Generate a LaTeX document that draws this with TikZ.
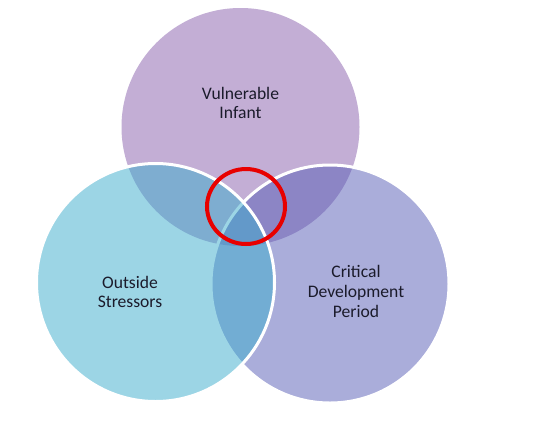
\documentclass[tikz,border=0pt]{standalone}
\usepackage{fontspec}
\setmainfont{Carlito}
\definecolor{topc}{RGB}{195,174,213}
\definecolor{rightc}{RGB}{87,93,183}
\definecolor{leftc}{RGB}{59,173,205}
\definecolor{ringc}{RGB}{232,0,0}
\definecolor{txtc}{RGB}{27,27,43}
\begin{document}
\begin{tikzpicture}[x=1pt,y=1pt,
  label text/.style={align=center,text=txtc,font=\fontsize{17.6}{19.8}\selectfont,inner sep=0pt},
  set border/.style={draw=white,line width=3pt}]
\useasboundingbox (0,0) rectangle (541,-432);
\fill[white] (0,0) rectangle (541,-432);
\coordinate (T) at (240.5,-127);
\coordinate (L) at (155.5,-282.5);
\coordinate (R) at (330,-284);
\coordinate (H) at (246,-206.5);
% top set
\fill[topc] (T) circle (119);
% right set
\fill[rightc,fill opacity=0.5] (R) circle (119);
\draw[set border] (R) circle (119);
% left set
\fill[leftc,fill opacity=0.5] (L) circle (119);
\draw[set border] (L) circle (119);
% highlight ring
\draw[ringc,line width=4pt] (H) ellipse [x radius=39, y radius=37.5];
% labels
\node[label text] (vi) at (240.5,-103) {Vulnerable\\Infant};
\node[label text] (os) at (130,-292) {Outside\\Stressors};
\node[label text] (cd) at (356,-291.5) {Critical\\Development\\Period};
\end{tikzpicture}
\end{document}
